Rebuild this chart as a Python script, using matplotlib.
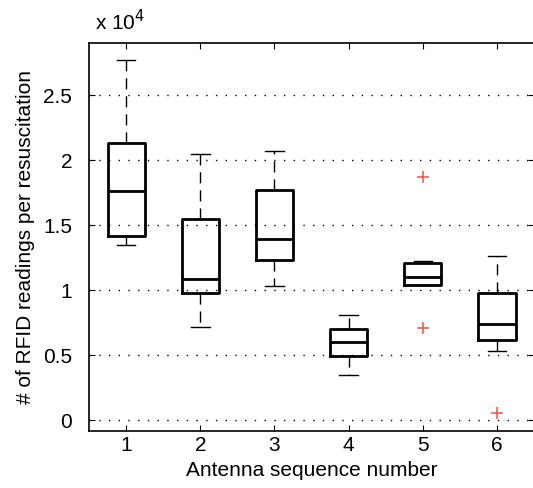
"""Box plot: RFID readings per resuscitation by antenna sequence number."""
import matplotlib
matplotlib.use("Agg")
import matplotlib.pyplot as plt

plt.rcParams["font.family"] = ["Liberation Sans", "DejaVu Sans"]

# values in units of 1e4 readings
antennas = [1, 2, 3, 4, 5, 6]
whislo = [1.346, 0.718, 1.033, 0.349, 1.036, 0.533]
q1 = [1.415, 0.974, 1.233, 0.492, 1.036, 0.615]
med = [1.759, 1.082, 1.392, 0.603, 1.103, 0.736]
q3 = [2.128, 1.549, 1.769, 0.703, 1.208, 0.979]
whishi = [2.770, 2.046, 2.072, 0.808, 1.221, 1.259]
outliers = [[], [], [], [], [1.867, 0.708], [0.051]]
yticks = [0, 0.5, 1, 1.5, 2, 2.5]
ytick_labels = ["0", "0.5", "1", "1.5", "2", "2.5"]

stats = [dict(label=str(a), whislo=lo, q1=a1, med=m, q3=a3, whishi=hi,
              fliers=f)
         for a, lo, a1, m, a3, hi, f in zip(antennas, whislo, q1, med, q3,
                                              whishi, outliers)]

fig = plt.figure(figsize=(5.33, 4.88), dpi=100)
ax = fig.add_axes([0.167, 0.1174, 0.835, 0.795])

ax.bxp(stats, positions=antennas, widths=0.5,
       boxprops=dict(color="black", linewidth=2),
       medianprops=dict(color="black", linewidth=2),
       whiskerprops=dict(color="black", linewidth=1, linestyle=(0, (8, 5))),
       capprops=dict(color="black", linewidth=1),
       capwidths=0.25,
       flierprops=dict(marker="+", markeredgecolor="#e8553a",
                       markersize=9, markeredgewidth=1.1, linestyle="none"))

ax.set_xlim(0.5, 6.5)
ax.set_ylim(-0.082, 2.902)
ax.set_yticks(yticks)
ax.set_yticklabels(ytick_labels)
ax.yaxis.grid(True, linestyle=(0, (1, 6)), color="black", linewidth=1)
ax.set_axisbelow(True)
ax.tick_params(direction="in", labelsize=15, length=4, right=True, top=True)
ax.tick_params(axis="y", pad=12)
ax.tick_params(axis="x", pad=4)
for s in ax.spines.values():
    s.set_linewidth(1.2)

ax.set_xlabel("Antenna sequence number", fontsize=15, labelpad=4)
ax.set_ylabel("# of RFID readings per resuscitation", fontsize=15,
              labelpad=6)
ax.text(0.013, 1.022, r"x 10$^{4}$", transform=ax.transAxes, fontsize=15,
        ha="left", va="bottom")

fig.savefig("out.png", dpi=100)
